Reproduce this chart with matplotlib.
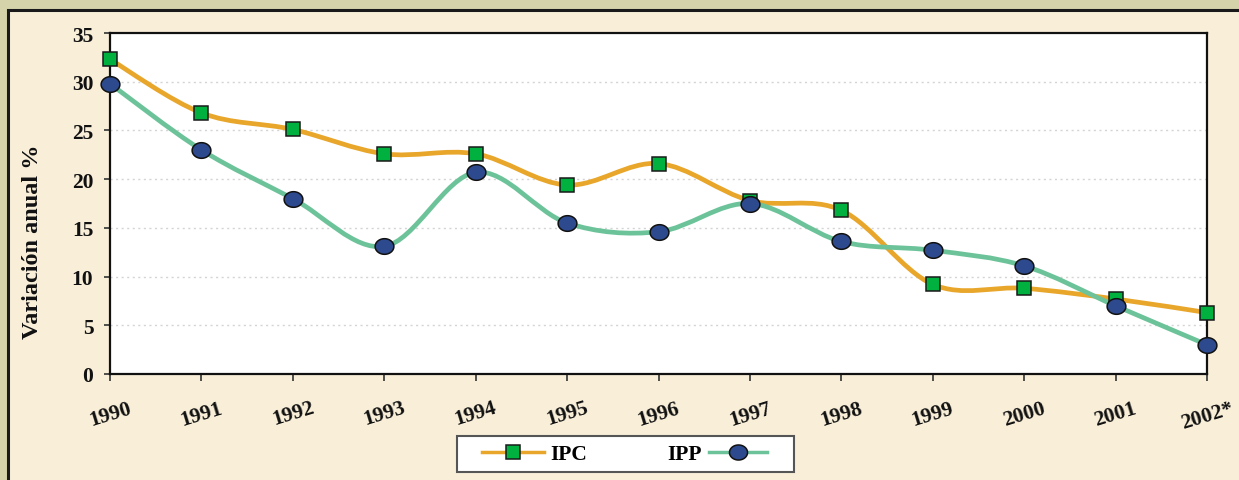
import matplotlib
matplotlib.use("Agg")
import matplotlib.pyplot as plt
from matplotlib.path import Path
from matplotlib.patches import PathPatch, Rectangle
from matplotlib.lines import Line2D
import numpy as np

years = ["1990", "1991", "1992", "1993", "1994", "1995", "1996",
         "1997", "1998", "1999", "2000", "2001", "2002*"]
ipc = [32.3, 26.8, 25.1, 22.6, 22.6, 19.4, 21.6, 17.8, 16.8, 9.2, 8.8, 7.7, 6.3]
ipp = [29.8, 23.0, 18.0, 13.1, 20.7, 15.5, 14.6, 17.5, 13.6, 12.7, 11.1, 7.0, 3.0]
yticks = [0, 5, 10, 15, 20, 25, 30, 35]

W, H = 1239, 481
fig = plt.figure(figsize=(W / 100, H / 100), dpi=100)
fig.patch.set_facecolor("#D5D3A9")

# beige panel with dark border
panel = Rectangle((8 / W, -0.2), 1.2, 1.2 - 11 / H, transform=fig.transFigure,
                  facecolor="#F9EFD9", edgecolor="#1a1a1a", linewidth=2.2, zorder=-10)
fig.patches.append(panel)

ax = fig.add_axes([110 / W, 1 - 375 / H, (1207 - 110) / W, (375 - 34) / H])
ax.set_zorder(1)
ax.set_facecolor("white")
x = np.arange(len(years))


def smooth_path(xs, ys):
    pts = np.column_stack([xs, ys]).astype(float)
    n = len(pts)
    verts = [pts[0]]
    codes = [Path.MOVETO]
    for i in range(n - 1):
        p0 = pts[i - 1] if i > 0 else pts[i]
        p1 = pts[i]
        p2 = pts[i + 1]
        p3 = pts[i + 2] if i + 2 < n else pts[i + 1]
        c1 = p1 + (p2 - p0) / 6.0
        c2 = p2 - (p3 - p1) / 6.0
        verts += [c1, c2, p2]
        codes += [Path.CURVE4] * 3
    return Path(verts, codes)


# slightly wide ellipse marker
_t = np.linspace(0, 2 * np.pi, 60)
ellipse = Path(np.column_stack([1.2 * np.cos(_t), np.sin(_t)]), closed=True)

orange = "#E8A62B"
green_line = "#6CC39A"
sq_face = "#00B140"
circ_face = "#2E4A8E"

ax.add_patch(PathPatch(smooth_path(x, ipc), facecolor="none", edgecolor=orange,
                       linewidth=3.4, zorder=3, capstyle="round"))
ax.add_patch(PathPatch(smooth_path(x, ipp), facecolor="none", edgecolor=green_line,
                       linewidth=3.4, zorder=3, capstyle="round"))
ax.plot(x, ipc, linestyle="none", marker="s", markersize=9.5,
        markerfacecolor=sq_face, markeredgecolor="#1a1a1a", markeredgewidth=1.1,
        zorder=5, clip_on=False)
ax.plot(x, ipp, linestyle="none", marker=ellipse, markersize=13.5,
        markerfacecolor=circ_face, markeredgecolor="#111111", markeredgewidth=1.1,
        zorder=6, clip_on=False)

ax.set_xlim(0, len(years) - 1)
ax.set_ylim(0, 35)
ax.set_yticks(yticks)
ax.set_yticklabels([str(v) for v in yticks], fontfamily="Liberation Serif",
                   fontweight="bold", fontsize=15.5, color="#111111")
ax.set_xticks(x)
ax.set_xticklabels(years, fontfamily="Liberation Serif", fontweight="bold",
                   fontsize=15.5, color="#111111", rotation=17, ha="center", va="top")
ax.tick_params(axis="y", direction="out", length=4, width=1.2, color="#333333", pad=8)
ax.tick_params(axis="x", direction="out", length=5, width=1.2, color="#333333", pad=12)

for v in yticks[1:-1]:
    ax.axhline(v, color="#d4d4d4", linewidth=1.0, linestyle=(0, (1.5, 2.5)), zorder=1)

for s in ax.spines.values():
    s.set_color("#111111")
    s.set_linewidth(1.6)

fig.text(33 / W, 1 - 242 / H, "Variación anual %", rotation=90, ha="center",
         va="center", fontfamily="Liberation Serif", fontweight="bold",
         fontsize=17.5, color="#111111")

# legend box
lb = Rectangle((457 / W, 1 - 473 / H), (794 - 457) / W, (473 - 437) / H,
               transform=fig.transFigure, facecolor="white", edgecolor="#555555",
               linewidth=1.5, zorder=2)
fig.patches.append(lb)
h_ipc = Line2D([], [], color=orange, linewidth=2.5, marker="s", markersize=9.5,
               markerfacecolor=sq_face, markeredgecolor="#1a1a1a", markeredgewidth=1.1)
h_ipp = Line2D([], [], color=green_line, linewidth=2.5, marker=ellipse, markersize=13,
               markerfacecolor=circ_face, markeredgecolor="#111111", markeredgewidth=1.1)
lprops = dict(family="Liberation Serif", weight="bold", size=15.5)
leg1 = fig.legend([h_ipc], ["IPC"], loc="center", bbox_to_anchor=(535 / W, 1 - 455 / H),
                  frameon=False, prop=lprops, handlelength=2.85, handletextpad=0.33,
                  markerfirst=True)
leg2 = fig.legend([h_ipp], ["IPP"], loc="center", bbox_to_anchor=(717 / W, 1 - 455 / H),
                  frameon=False, prop=lprops, handlelength=2.7, handletextpad=0.33,
                  markerfirst=False)
leg1.set_zorder(3)
leg2.set_zorder(3)

fig.savefig("out.png", dpi=100, facecolor=fig.get_facecolor())
